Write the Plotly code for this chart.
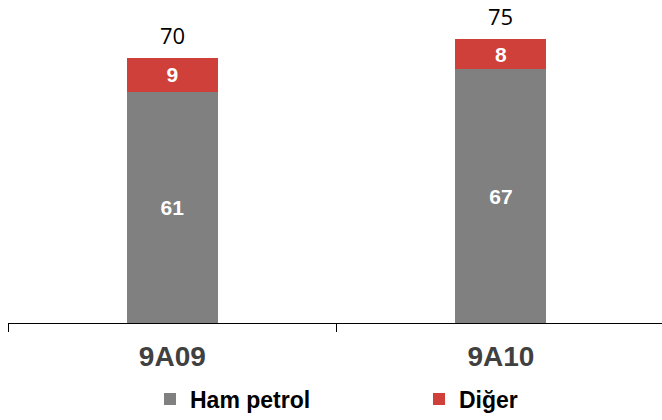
import plotly.graph_objects as go

categories = ["9A09", "9A10"]
ham_petrol = [61, 67]
diger = [9, 8]
totals = [70, 75]

GRAY = "#808080"
RED = "#d0403a"

fig = go.Figure()
fig.add_trace(go.Bar(
    x=categories, y=ham_petrol, name="Ham petrol",
    marker=dict(color=GRAY, line=dict(width=0)),
    width=0.277,
    text=[str(v) for v in ham_petrol], textposition="inside",
    insidetextanchor="middle",
    textfont=dict(family="Liberation Sans", size=21, color="white", weight="bold"),
))
fig.add_trace(go.Bar(
    x=categories, y=diger, name="Diğer",
    marker=dict(color=RED, line=dict(width=0)),
    width=0.277,
    text=[str(v) for v in diger], textposition="inside",
    insidetextanchor="middle",
    textfont=dict(family="Liberation Sans", size=21, color="white", weight="bold"),
))

for c, t in zip(categories, totals):
    fig.add_annotation(x=c, y=t, text=str(t), showarrow=False, yshift=23,
                       font=dict(family="Open Sans", size=22, color="black"))

fig.update_layout(
    barmode="stack",
    width=662, height=420,
    margin=dict(l=8, r=0, t=0, b=97, autoexpand=False),
    plot_bgcolor="white", paper_bgcolor="white",
    showlegend=True,
    legend=dict(
        orientation="h", xref="container", yref="container",
        x=150 / 662, xanchor="left", y=1 - 399 / 420, yanchor="middle",
        entrywidth=224, entrywidthmode="pixels", traceorder="normal",
        font=dict(family="Liberation Sans", size=23, color="black", weight="bold"),
        itemclick=False, bgcolor="rgba(0,0,0,0)",
    ),
    xaxis=dict(
        range=[-0.5, 1.49],
        showline=True, linecolor="#000000", linewidth=1,
        ticks="outside", tickson="boundaries", ticklen=8, tickcolor="#000000",
        tickfont=dict(family="Liberation Sans", size=28, color="#404040", weight="bold"),
        ticklabelstandoff=8,
        showgrid=False, zeroline=False,
    ),
    yaxis=dict(visible=False, range=[0, 85.3], showgrid=False, zeroline=False),
)

fig.write_html("out.html", config={"displayModeBar": False},
               post_script="document.body.style.margin='0';document.body.style.padding='0';")
